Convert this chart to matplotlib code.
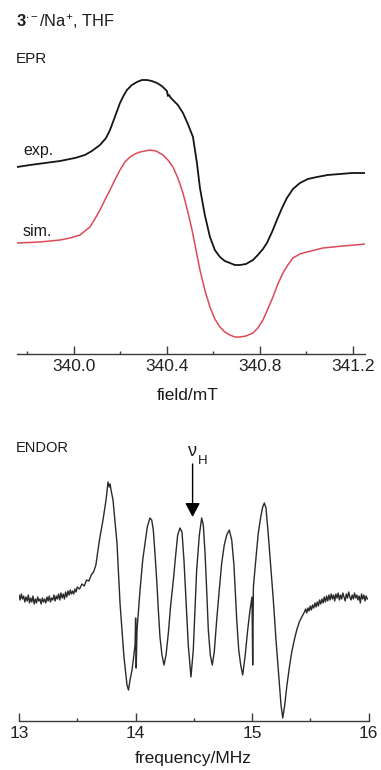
import matplotlib
matplotlib.use("Agg")
import matplotlib.pyplot as plt
from matplotlib.ticker import FixedLocator, FixedFormatter

plt.rcParams['font.family'] = ['Liberation Sans', 'DejaVu Sans']
plt.rcParams['mathtext.fontset'] = 'custom'
plt.rcParams['mathtext.rm'] = 'Liberation Sans'
plt.rcParams['mathtext.bf'] = 'Liberation Sans:bold'
plt.rcParams['mathtext.it'] = 'Liberation Sans:italic'
plt.rcParams['mathtext.sf'] = 'Liberation Sans'

# ---------------- EPR data (field / mT, intensity a.u.) ----------------
epr_exp_field = [339.755, 339.811, 339.875, 339.940, 340.004, 340.047, 340.077, 340.112, 340.138, 340.155,
                 340.176, 340.198, 340.215, 340.228, 340.249, 340.271, 340.292, 340.314, 340.335, 340.357,
                 340.378, 340.391, 340.400, 340.404, 340.409, 340.417, 340.430, 340.447, 340.469, 340.490,
                 340.512, 340.529, 340.542, 340.563, 340.585, 340.606, 340.628, 340.649, 340.671, 340.692,
                 340.714, 340.740, 340.770, 340.791, 340.813, 340.830, 340.852, 340.873, 340.895, 340.916,
                 340.942, 340.972, 341.006, 341.045, 341.092, 341.144, 341.196, 341.252]
epr_exp_int = [0.00, 0.02, 0.04, 0.06, 0.09, 0.12, 0.16, 0.22, 0.29, 0.37,
               0.50, 0.64, 0.72, 0.77, 0.82, 0.85, 0.87, 0.87, 0.86, 0.84,
               0.81, 0.78, 0.76, 0.71, 0.72, 0.69, 0.66, 0.62, 0.54, 0.43,
               0.30, 0.04, -0.21, -0.48, -0.70, -0.83, -0.90, -0.94, -0.96, -0.98,
               -0.98, -0.97, -0.93, -0.88, -0.82, -0.76, -0.65, -0.53, -0.41, -0.31,
               -0.22, -0.16, -0.12, -0.10, -0.08, -0.07, -0.06, -0.06]

epr_sim_field = [339.755, 339.854, 339.940, 339.983, 340.026, 340.047, 340.069, 340.090, 340.112, 340.133,
                 340.155, 340.176, 340.198, 340.219, 340.241, 340.262, 340.284, 340.305, 340.327, 340.353,
                 340.383, 340.404, 340.426, 340.447, 340.469, 340.490, 340.508, 340.525, 340.542, 340.563,
                 340.585, 340.606, 340.628, 340.649, 340.671, 340.692, 340.714, 340.740, 340.770, 340.791,
                 340.813, 340.834, 340.856, 340.877, 340.899, 340.920, 340.942, 340.972, 341.002, 341.037,
                 341.071, 341.114, 341.157, 341.209, 341.252]
epr_sim_int = [0.00, 0.01, 0.03, 0.05, 0.08, 0.12, 0.16, 0.24, 0.33, 0.43,
               0.53, 0.63, 0.73, 0.81, 0.86, 0.89, 0.91, 0.92, 0.93, 0.92,
               0.88, 0.83, 0.76, 0.65, 0.50, 0.31, 0.13, -0.07, -0.27, -0.47,
               -0.64, -0.76, -0.84, -0.89, -0.92, -0.94, -0.94, -0.93, -0.90, -0.85,
               -0.77, -0.66, -0.54, -0.41, -0.30, -0.22, -0.15, -0.11, -0.09, -0.07,
               -0.05, -0.04, -0.03, -0.02, -0.01]

epr_major_ticks = [340.0, 340.4, 340.8, 341.2]
epr_minor_ticks = [339.8, 340.2, 340.6, 341.0]
epr_tick_labels = ['340.0', '340.4', '340.8', '341.2']

# ---------------- ENDOR data (frequency / MHz, intensity a.u.) ----------------
endor_freq = [13.00, 13.01, 13.02, 13.03, 13.04, 13.05, 13.06, 13.07, 13.08, 13.09,
              13.10, 13.11, 13.12, 13.13, 13.14, 13.15, 13.16, 13.17, 13.18, 13.19,
              13.20, 13.21, 13.22, 13.23, 13.24, 13.25, 13.26, 13.27, 13.28, 13.29,
              13.30, 13.31, 13.32, 13.33, 13.34, 13.35, 13.36, 13.37, 13.38, 13.39,
              13.40, 13.41, 13.42, 13.43, 13.44, 13.45, 13.46, 13.47, 13.48, 13.49,
              13.50, 13.52, 13.54, 13.56, 13.58, 13.60, 13.62, 13.64, 13.66, 13.678,
              13.695, 13.721, 13.747, 13.764, 13.775, 13.782, 13.790, 13.807, 13.841, 13.867,
              13.901, 13.927, 13.940, 13.953, 13.970, 13.981, 13.996, 14.001, 14.006, 14.013,
              14.039, 14.062, 14.082, 14.101, 14.124, 14.139, 14.153, 14.167, 14.182, 14.196,
              14.210, 14.227, 14.245, 14.262, 14.282, 14.302, 14.325, 14.345, 14.362, 14.382,
              14.399, 14.416, 14.433, 14.453, 14.476, 14.496, 14.525, 14.548, 14.568, 14.582,
              14.597, 14.611, 14.625, 14.642, 14.659, 14.676, 14.697, 14.719, 14.740, 14.762,
              14.783, 14.805, 14.826, 14.845, 14.869, 14.886, 14.903, 14.920, 14.940, 14.963,
              14.983, 15.000, 15.006, 15.012, 15.034, 15.054, 15.075, 15.092, 15.106, 15.120,
              15.140, 15.160, 15.183, 15.206, 15.229, 15.249, 15.264, 15.281, 15.298, 15.320,
              15.341, 15.363, 15.384, 15.406, 15.427,
              15.45, 15.46, 15.47, 15.48, 15.49, 15.50, 15.51, 15.52, 15.53, 15.54,
              15.55, 15.56, 15.57, 15.58, 15.59, 15.60, 15.61, 15.62, 15.63, 15.64,
              15.65, 15.66, 15.67, 15.68, 15.69, 15.70, 15.71, 15.72, 15.73, 15.74,
              15.75, 15.76, 15.77, 15.78, 15.79, 15.80, 15.81, 15.82, 15.83, 15.84,
              15.85, 15.86, 15.87, 15.88, 15.89, 15.90, 15.91, 15.92, 15.93, 15.94,
              15.95, 15.96, 15.97, 15.98, 15.99]
endor_int = [0.02, -0.03, 0.03, -0.02, 0.01, -0.05, 0.00, -0.04, 0.02, -0.06,
             -0.01, -0.05, 0.01, -0.07, -0.02, -0.06, 0.00, -0.04, -0.02, -0.07,
             -0.01, -0.05, -0.02, -0.06, 0.00, -0.04, 0.01, -0.05, -0.01, -0.03,
             0.02, -0.04, 0.01, -0.02, 0.03, -0.03, 0.04, -0.01, 0.03, -0.02,
             0.05, 0.00, 0.06, 0.02, 0.07, 0.03, 0.06, 0.03, 0.08, 0.05,
             0.10, 0.08, 0.13, 0.11, 0.17, 0.16, 0.22, 0.25, 0.32, 0.47,
             0.60, 0.77, 0.97, 1.15, 1.10, 1.13, 1.07, 0.97, 0.54, -0.06,
             -0.60, -0.88, -0.93, -0.83, -0.73, -0.63, -0.48, -0.21, -0.71, -0.33,
             0.07, 0.37, 0.54, 0.70, 0.79, 0.77, 0.67, 0.44, 0.17, -0.13,
             -0.40, -0.58, -0.68, -0.58, -0.36, -0.08, 0.17, 0.42, 0.62, 0.69,
             0.65, 0.37, -0.03, -0.48, -0.80, -0.53, 0.27, 0.62, 0.79, 0.72,
             0.44, 0.07, -0.33, -0.58, -0.68, -0.55, -0.23, 0.07, 0.34, 0.52,
             0.62, 0.67, 0.57, 0.32, -0.23, -0.53, -0.68, -0.78, -0.60, -0.33,
             -0.13, 0.00, -0.68, 0.10, 0.39, 0.64, 0.80, 0.90, 0.94, 0.89,
             0.62, 0.32, -0.03, -0.43, -0.78, -1.08, -1.21, -1.08, -0.90, -0.71,
             -0.55, -0.43, -0.33, -0.25, -0.20,
             -0.15, -0.12, -0.16, -0.11, -0.14, -0.09, -0.13, -0.08, -0.11, -0.06,
             -0.10, -0.05, -0.09, -0.03, -0.07, -0.02, -0.06, 0.00, -0.05, 0.01,
             -0.04, 0.02, -0.03, 0.03, -0.02, 0.02, -0.04, 0.03, -0.01, 0.04,
             -0.03, 0.02, -0.02, 0.04, 0.00, -0.04, 0.03, -0.01, 0.05, 0.00,
             -0.03, 0.02, -0.02, 0.04, -0.01, 0.02, -0.03, 0.01, -0.06, 0.03,
             -0.02, 0.02, -0.04, 0.01, -0.02]

endor_major_ticks = [13, 14, 15, 16]
endor_minor_ticks = [13.5, 14.5, 15.5]
endor_tick_labels = ['13', '14', '15', '16']
nu_h_freq = 14.49

# ---------------- figure ----------------
W, H = 381, 770
fig = plt.figure(figsize=(W / 100, H / 100), dpi=100)


def rect(x0, x1, ytop, ybot):
    return [x0 / W, 1 - ybot / H, (x1 - x0) / W, (ybot - ytop) / H]


def fx(x):
    return x / W


def fy(y):
    return 1 - y / H


AX_COL = '#3a3a3a'


def style_axis(ax, major, minor, labels):
    for s in ['top', 'left', 'right']:
        ax.spines[s].set_visible(False)
    ax.spines['bottom'].set_color(AX_COL)
    ax.spines['bottom'].set_linewidth(1.0)
    ax.set_yticks([])
    ax.xaxis.set_major_locator(FixedLocator(major))
    ax.xaxis.set_major_formatter(FixedFormatter(labels))
    ax.xaxis.set_minor_locator(FixedLocator(minor))
    ax.tick_params(axis='x', which='major', direction='in', length=5.8, width=1.0,
                   color=AX_COL, labelsize=12.5, pad=3.5, labelcolor='#222222')
    ax.tick_params(axis='x', which='minor', direction='in', length=2.5, width=1.0, color=AX_COL)
    ax.patch.set_alpha(0)


# EPR panel
ax1 = fig.add_axes(rect(17, 365, 70, 354))
exp_offset = 0.76
ax1.plot(epr_exp_field, [v + exp_offset for v in epr_exp_int], color='#151515', lw=1.3)
ax1.plot(epr_sim_field, epr_sim_int, color='#dc4a5a', lw=1.1)
ax1.set_xlim(339.755, 341.252)
ax1.set_ylim(-1.11, 1.73)
style_axis(ax1, epr_major_ticks, epr_minor_ticks, epr_tick_labels)

# ENDOR panel
ax2 = fig.add_axes(rect(19, 368.5, 430, 720.7))
ax2.plot(endor_freq, endor_int, color='#2a2a2a', lw=1.0)
ax2.set_xlim(13, 16)
ax2.set_ylim(-1.237, 1.67)
style_axis(ax2, endor_major_ticks, endor_minor_ticks, endor_tick_labels)
ax2.annotate('', xy=(nu_h_freq, 0.80), xytext=(nu_h_freq, 1.33),
             arrowprops=dict(arrowstyle='-|>,head_length=0.85,head_width=0.45',
                             color='black', lw=1.0, shrinkA=0, shrinkB=0,
                             mutation_scale=10))

# texts
TXT = '#1a1a1a'
fig.text(fx(16), fy(22), r'$\mathbf{3}^{\bullet -}$/Na$^{+}$, THF', fontsize=11.8,
         color=TXT, ha='left', va='center')
fig.text(fx(16), fy(59), 'EPR', fontsize=11, color=TXT, ha='left', va='center')
fig.text(fx(23), fy(150), 'exp.', fontsize=11.5, color=TXT, ha='left', va='center')
fig.text(fx(23), fy(232), 'sim.', fontsize=11.5, color=TXT, ha='left', va='center')
fig.text(fx(188), fy(396), 'field/mT', fontsize=12.5, color=TXT, ha='center', va='center')
fig.text(fx(16), fy(448), 'ENDOR', fontsize=10.5, color=TXT, ha='left', va='center')
fig.text(fx(192), fy(452), 'ν', fontsize=13, color=TXT, ha='center', va='center')
fig.text(fx(198), fy(461), 'H', fontsize=9.5, color=TXT, ha='left', va='center')
fig.text(fx(193), fy(759), 'frequency/MHz', fontsize=12.5, color=TXT, ha='center', va='center')

fig.savefig('out.png', dpi=100)
